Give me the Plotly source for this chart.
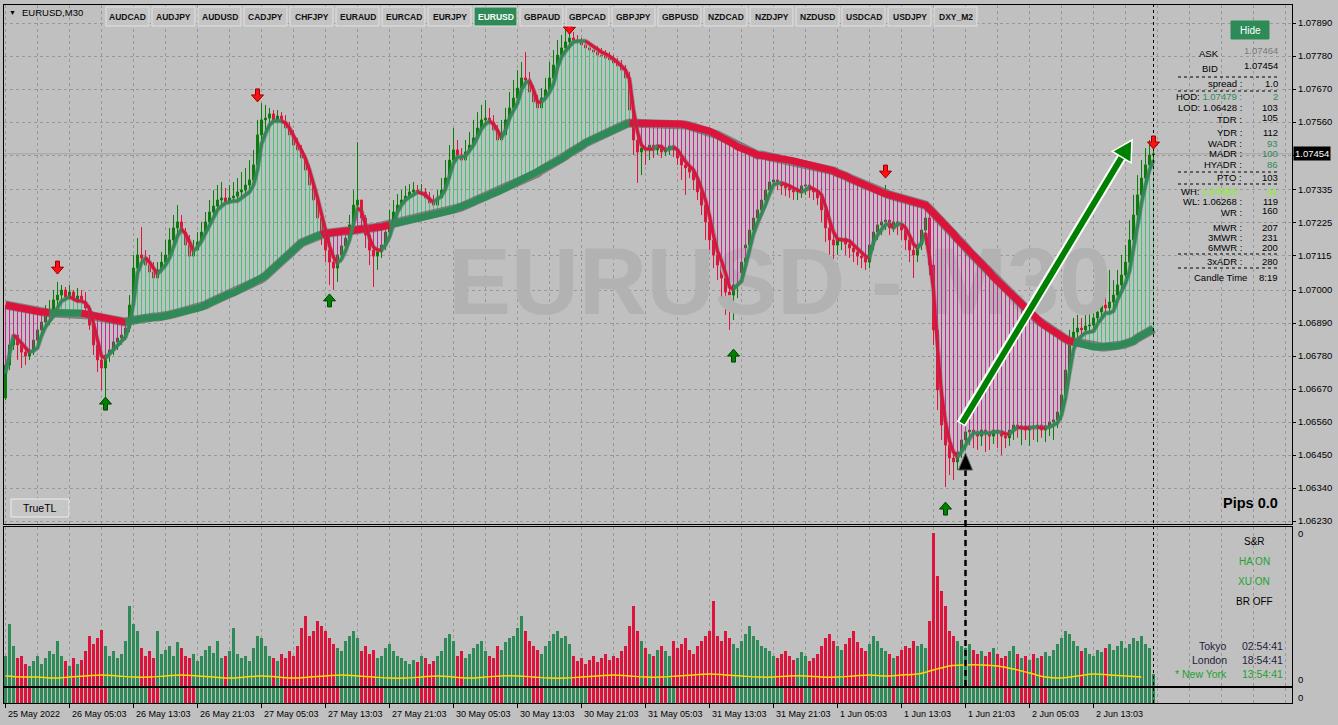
import plotly.graph_objects as go

# ---------------- DATA ----------------
symbol_title = "EURUSD,M30"
watermark_text = "EURUSD - M30"

x_tick_labels = ["25 May 2022", "26 May 05:03", "26 May 13:03", "26 May 21:03", "27 May 05:03",
                 "27 May 13:03", "27 May 21:03", "30 May 05:03", "30 May 13:03", "30 May 21:03",
                 "31 May 05:03", "31 May 13:03", "31 May 21:03", "1 Jun 05:03", "1 Jun 13:03",
                 "1 Jun 21:03", "2 Jun 05:03", "2 Jun 13:03"]
price_ticks = [1.07890, 1.07780, 1.07670, 1.07560, 1.07450, 1.07335, 1.07225, 1.07115, 1.07000,
               1.06890, 1.06780, 1.06670, 1.06560, 1.06450, 1.06340, 1.06230]
price_tick_text = ["1.07890", "1.07780", "1.07670", "1.07560", "", "1.07335", "1.07225", "1.07115",
                   "1.07000", "1.06890", "1.06780", "1.06670", "1.06560", "1.06450", "1.06340", "1.06230"]
bid_price = 1.07454

first_open = 1.06640
close = [
 1.06750,1.06817,1.06850,1.06817,1.06793,1.06780,1.06800,1.06833,1.06867,1.06893,1.06917,1.06927,1.06967,1.06983,1.07000,1.06977,
 1.06993,1.06967,1.06980,1.06960,1.06940,1.06883,1.06817,1.06767,1.06740,1.06783,1.06800,1.06827,1.06840,1.06850,1.06873,1.06950,
 1.07073,1.07117,1.07107,1.07083,1.07060,1.07040,1.07067,1.07093,1.07117,1.07167,1.07207,1.07227,1.07193,1.07150,1.07113,1.07133,
 1.07160,1.07193,1.07227,1.07260,1.07280,1.07300,1.07307,1.07293,1.07307,1.07313,1.07327,1.07333,1.07350,1.07367,1.07417,1.07517,
 1.07567,1.07573,1.07587,1.07567,1.07580,1.07560,1.07540,1.07517,1.07483,1.07467,1.07440,1.07400,1.07350,1.07300,1.07240,1.07183,
 1.07133,1.07093,1.07073,1.07117,1.07147,1.07173,1.07217,1.07283,1.07300,1.07240,1.07183,1.07133,1.07113,1.07127,1.07150,1.07193,
 1.07227,1.07260,1.07283,1.07300,1.07313,1.07327,1.07333,1.07320,1.07327,1.07307,1.07290,1.07283,1.07307,1.07333,1.07373,1.07433,
 1.07467,1.07450,1.07433,1.07460,1.07483,1.07507,1.07540,1.07567,1.07573,1.07560,1.07533,1.07500,1.07517,1.07567,1.07607,1.07640,
 1.07673,1.07707,1.07700,1.07660,1.07627,1.07607,1.07640,1.07667,1.07707,1.07750,1.07783,1.07807,1.07827,1.07840,1.07833,1.07827,
 1.07817,1.07807,1.07800,1.07793,1.07783,1.07780,1.07773,1.07767,1.07757,1.07747,1.07733,1.07707,1.07600,1.07500,1.07460,1.07473,
 1.07467,1.07483,1.07467,1.07483,1.07460,1.07473,1.07480,1.07467,1.07440,1.07417,1.07407,1.07393,1.07367,1.07327,1.07283,1.07227,
 1.07167,1.07117,1.07083,1.07040,1.06993,1.06983,1.07017,1.07040,1.07093,1.07150,1.07200,1.07240,1.07267,1.07300,1.07333,1.07360,
 1.07367,1.07357,1.07347,1.07340,1.07333,1.07327,1.07333,1.07347,1.07350,1.07333,1.07327,1.07307,1.07267,1.07207,1.07167,1.07150,
 1.07167,1.07173,1.07153,1.07140,1.07127,1.07113,1.07107,1.07093,1.07150,1.07193,1.07217,1.07227,1.07233,1.07207,1.07227,1.07213,
 1.07200,1.07167,1.07133,1.07117,1.07150,1.07200,1.07240,1.07083,1.06867,1.06667,1.06550,1.06483,1.06440,1.06427,1.06460,1.06500,
 1.06527,1.06533,1.06527,1.06513,1.06533,1.06523,1.06513,1.06533,1.06527,1.06513,1.06507,1.06533,1.06550,1.06540,1.06547,1.06533,
 1.06547,1.06540,1.06550,1.06533,1.06547,1.06560,1.06567,1.06593,1.06650,1.06733,1.06817,1.06860,1.06873,1.06867,1.06880,1.06883,
 1.06907,1.06927,1.06950,1.06940,1.06960,1.06983,1.07017,1.07050,1.07093,1.07167,1.07250,1.07317,1.07373,1.07417,1.07450,1.07454]
high = [
 1.06783,1.06840,1.06883,1.06867,1.06833,1.06817,1.06827,1.06850,1.06900,1.06933,1.06950,1.06967,1.07000,1.07027,1.07017,1.07010,
 1.07017,1.07000,1.07007,1.07000,1.06993,1.06950,1.06900,1.06833,1.06800,1.06817,1.06833,1.06850,1.06867,1.06883,1.06900,1.06983,
 1.07117,1.07173,1.07210,1.07133,1.07117,1.07093,1.07093,1.07127,1.07167,1.07207,1.07250,1.07283,1.07250,1.07207,1.07183,1.07167,
 1.07193,1.07227,1.07260,1.07300,1.07333,1.07350,1.07360,1.07340,1.07350,1.07360,1.07373,1.07393,1.07407,1.07433,1.07467,1.07567,
 1.07623,1.07617,1.07607,1.07600,1.07600,1.07593,1.07583,1.07560,1.07533,1.07507,1.07483,1.07450,1.07417,1.07367,1.07317,1.07267,
 1.07207,1.07150,1.07133,1.07140,1.07173,1.07207,1.07250,1.07333,1.07493,1.07300,1.07250,1.07207,1.07167,1.07167,1.07180,1.07227,
 1.07267,1.07300,1.07320,1.07333,1.07347,1.07353,1.07360,1.07350,1.07353,1.07340,1.07327,1.07317,1.07333,1.07373,1.07433,1.07483,
 1.07540,1.07500,1.07473,1.07500,1.07527,1.07567,1.07593,1.07617,1.07633,1.07607,1.07583,1.07550,1.07567,1.07607,1.07660,1.07700,
 1.07733,1.07760,1.07793,1.07727,1.07683,1.07650,1.07673,1.07707,1.07760,1.07800,1.07833,1.07850,1.07867,1.07873,1.07860,1.07850,
 1.07840,1.07833,1.07827,1.07817,1.07813,1.07807,1.07800,1.07793,1.07783,1.07773,1.07767,1.07750,1.07727,1.07633,1.07533,1.07517,
 1.07507,1.07517,1.07500,1.07517,1.07500,1.07507,1.07513,1.07500,1.07493,1.07467,1.07450,1.07433,1.07417,1.07383,1.07340,1.07300,
 1.07250,1.07183,1.07133,1.07100,1.07067,1.07033,1.07040,1.07067,1.07133,1.07193,1.07240,1.07283,1.07317,1.07340,1.07373,1.07393,
 1.07400,1.07393,1.07380,1.07373,1.07367,1.07360,1.07367,1.07373,1.07380,1.07373,1.07360,1.07347,1.07327,1.07283,1.07233,1.07193,
 1.07193,1.07200,1.07193,1.07180,1.07167,1.07153,1.07147,1.07140,1.07173,1.07233,1.07250,1.07267,1.07350,1.07250,1.07260,1.07250,
 1.07240,1.07217,1.07193,1.07167,1.07183,1.07240,1.07283,1.07250,1.07100,1.06900,1.06717,1.06600,1.06533,1.06500,1.06500,1.06533,
 1.06550,1.06567,1.06567,1.06550,1.06567,1.06560,1.06550,1.06573,1.06560,1.06547,1.06540,1.06567,1.06583,1.06573,1.06580,1.06567,
 1.06580,1.06573,1.06580,1.06567,1.06580,1.06587,1.06593,1.06633,1.06700,1.06800,1.06867,1.06907,1.06917,1.06907,1.06927,1.06940,
 1.06967,1.06980,1.07007,1.07017,1.07067,1.07033,1.07067,1.07117,1.07150,1.07233,1.07317,1.07383,1.07433,1.07473,1.07500,1.07479]
low = [
 1.06633,1.06733,1.06800,1.06767,1.06740,1.06750,1.06767,1.06783,1.06817,1.06850,1.06873,1.06883,1.06907,1.06933,1.06950,1.06950,
 1.06960,1.06933,1.06940,1.06927,1.06917,1.06867,1.06783,1.06727,1.06667,1.06640,1.06760,1.06783,1.06800,1.06817,1.06833,1.06860,
 1.06933,1.07050,1.07093,1.07050,1.07027,1.07013,1.07017,1.07047,1.07083,1.07107,1.07140,1.07173,1.07167,1.07127,1.07083,1.07093,
 1.07113,1.07140,1.07173,1.07207,1.07233,1.07260,1.07273,1.07267,1.07273,1.07280,1.07290,1.07300,1.07313,1.07327,1.07350,1.07400,
 1.07500,1.07533,1.07540,1.07540,1.07547,1.07533,1.07517,1.07493,1.07467,1.07440,1.07417,1.07373,1.07317,1.07267,1.07207,1.07150,
 1.07093,1.07017,1.07000,1.07027,1.07093,1.07133,1.07160,1.07200,1.07260,1.07207,1.07140,1.07083,1.07010,1.07067,1.07107,1.07133,
 1.07173,1.07213,1.07240,1.07267,1.07280,1.07293,1.07300,1.07300,1.07290,1.07283,1.07273,1.07267,1.07273,1.07300,1.07317,1.07367,
 1.07417,1.07427,1.07417,1.07427,1.07447,1.07467,1.07493,1.07517,1.07540,1.07540,1.07513,1.07480,1.07473,1.07500,1.07553,1.07583,
 1.07617,1.07650,1.07673,1.07640,1.07600,1.07573,1.07593,1.07627,1.07650,1.07683,1.07733,1.07767,1.07783,1.07807,1.07810,1.07807,
 1.07800,1.07783,1.07780,1.07773,1.07767,1.07760,1.07753,1.07747,1.07740,1.07727,1.07707,1.07673,1.07567,1.07450,1.07357,1.07383,
 1.07417,1.07433,1.07440,1.07450,1.07440,1.07447,1.07450,1.07443,1.07417,1.07367,1.07317,1.07373,1.07333,1.07300,1.07250,1.07167,
 1.07133,1.07073,1.07033,1.06967,1.06917,1.06867,1.06900,1.06973,1.07017,1.07067,1.07133,1.07183,1.07217,1.07250,1.07283,1.07317,
 1.07340,1.07333,1.07317,1.07313,1.07307,1.07300,1.07300,1.07307,1.07317,1.07307,1.07300,1.07283,1.07227,1.07160,1.07117,1.07083,
 1.07117,1.07133,1.07117,1.07107,1.07093,1.07083,1.07073,1.07067,1.07073,1.07133,1.07167,1.07183,1.07200,1.07183,1.07193,1.07183,
 1.07167,1.07133,1.07093,1.07040,1.07093,1.07133,1.07150,1.07050,1.06817,1.06600,1.06500,1.06343,1.06383,1.06367,1.06400,1.06440,
 1.06467,1.06483,1.06473,1.06467,1.06480,1.06460,1.06467,1.06487,1.06473,1.06450,1.06473,1.06480,1.06500,1.06507,1.06483,1.06500,
 1.06480,1.06500,1.06493,1.06507,1.06493,1.06513,1.06500,1.06540,1.06567,1.06633,1.06717,1.06800,1.06833,1.06840,1.06847,1.06850,
 1.06867,1.06883,1.06907,1.06917,1.06927,1.06940,1.06967,1.07000,1.07040,1.07083,1.07150,1.07227,1.07300,1.07350,1.07400,1.07433]

# smoothed (heiken-ashi style) fast line
fast_line = [
 1.06723,1.06793,1.06850,1.06837,1.06823,1.06807,1.06793,1.06797,1.06807,1.06847,1.06877,1.06897,1.06913,1.06940,1.06963,1.06970,
 1.06977,1.06970,1.06963,1.06963,1.06957,1.06937,1.06890,1.06833,1.06780,1.06773,1.06787,1.06803,1.06817,1.06830,1.06843,1.06883,
 1.06957,1.07057,1.07090,1.07107,1.07093,1.07073,1.07053,1.07067,1.07083,1.07107,1.07143,1.07180,1.07203,1.07187,1.07160,1.07130,
 1.07143,1.07163,1.07190,1.07213,1.07240,1.07267,1.07280,1.07290,1.07293,1.07297,1.07297,1.07307,1.07317,1.07327,1.07350,1.07400,
 1.07487,1.07523,1.07550,1.07563,1.07563,1.07563,1.07557,1.07540,1.07513,1.07490,1.07467,1.07437,1.07400,1.07357,1.07307,1.07253,
 1.07197,1.07147,1.07110,1.07090,1.07103,1.07130,1.07167,1.07220,1.07273,1.07263,1.07217,1.07173,1.07143,1.07133,1.07133,1.07150,
 1.07177,1.07220,1.07260,1.07283,1.07300,1.07310,1.07317,1.07327,1.07323,1.07317,1.07303,1.07293,1.07303,1.07313,1.07337,1.07377,
 1.07423,1.07443,1.07443,1.07447,1.07467,1.07483,1.07510,1.07537,1.07553,1.07563,1.07553,1.07533,1.07507,1.07533,1.07573,1.07600,
 1.07623,1.07667,1.07690,1.07697,1.07667,1.07627,1.07627,1.07640,1.07660,1.07687,1.07743,1.07777,1.07797,1.07813,1.07827,1.07830,
 1.07830,1.07830,1.07820,1.07810,1.07803,1.07793,1.07787,1.07780,1.07770,1.07760,1.07747,1.07733,1.07703,1.07600,1.07527,1.07483,
 1.07470,1.07470,1.07470,1.07480,1.07477,1.07467,1.07470,1.07477,1.07467,1.07447,1.07427,1.07413,1.07400,1.07373,1.07337,1.07300,
 1.07247,1.07180,1.07130,1.07097,1.07057,1.07010,1.07003,1.07017,1.07030,1.07080,1.07133,1.07187,1.07223,1.07253,1.07283,1.07320,
 1.07350,1.07357,1.07357,1.07353,1.07347,1.07340,1.07333,1.07327,1.07333,1.07343,1.07337,1.07330,1.07317,1.07280,1.07233,1.07193,
 1.07170,1.07167,1.07167,1.07163,1.07150,1.07137,1.07127,1.07113,1.07107,1.07160,1.07183,1.07203,1.07217,1.07220,1.07207,1.07220,
 1.07220,1.07207,1.07183,1.07153,1.07140,1.07157,1.07190,1.07107,1.07000,1.06807,1.06657,1.06560,1.06497,1.06460,1.06443,1.06460,
 1.06483,1.06507,1.06523,1.06523,1.06523,1.06523,1.06523,1.06527,1.06527,1.06527,1.06520,1.06520,1.06533,1.06543,1.06540,1.06540,
 1.06540,1.06543,1.06543,1.06540,1.06540,1.06543,1.06550,1.06557,1.06583,1.06640,1.06723,1.06800,1.06833,1.06847,1.06857,1.06860,
 1.06863,1.06887,1.06907,1.06923,1.06923,1.06930,1.06967,1.06997,1.07023,1.07063,1.07143,1.07223,1.07290,1.07350,1.07400,1.07433]

# slow moving average
slow_ma = [
 1.06950,1.06947,1.06947,1.06943,1.06940,1.06937,1.06937,1.06933,1.06930,1.06927,1.06927,1.06923,1.06923,1.06923,1.06923,1.06923,
 1.06923,1.06923,1.06923,1.06923,1.06920,1.06917,1.06913,1.06910,1.06907,1.06903,1.06900,1.06897,1.06897,1.06893,1.06893,1.06897,
 1.06900,1.06900,1.06903,1.06907,1.06907,1.06910,1.06910,1.06910,1.06913,1.06917,1.06920,1.06923,1.06927,1.06930,1.06933,1.06937,
 1.06940,1.06943,1.06950,1.06957,1.06963,1.06970,1.06977,1.06980,1.06987,1.06990,1.06997,1.07003,1.07010,1.07017,1.07023,1.07030,
 1.07037,1.07047,1.07060,1.07073,1.07087,1.07097,1.07107,1.07120,1.07133,1.07147,1.07157,1.07163,1.07170,1.07177,1.07180,1.07183,
 1.07190,1.07190,1.07193,1.07193,1.07197,1.07197,1.07197,1.07200,1.07200,1.07203,1.07203,1.07207,1.07207,1.07210,1.07210,1.07213,
 1.07217,1.07220,1.07223,1.07227,1.07230,1.07233,1.07237,1.07240,1.07243,1.07247,1.07250,1.07250,1.07253,1.07257,1.07257,1.07263,
 1.07267,1.07273,1.07277,1.07283,1.07290,1.07293,1.07300,1.07303,1.07310,1.07317,1.07320,1.07327,1.07333,1.07340,1.07343,1.07350,
 1.07357,1.07363,1.07370,1.07377,1.07383,1.07390,1.07400,1.07407,1.07413,1.07420,1.07427,1.07437,1.07447,1.07457,1.07463,1.07473,
 1.07480,1.07490,1.07497,1.07503,1.07510,1.07517,1.07523,1.07530,1.07537,1.07543,1.07550,1.07553,1.07557,1.07557,1.07557,1.07557,
 1.07557,1.07557,1.07557,1.07557,1.07557,1.07557,1.07557,1.07557,1.07557,1.07553,1.07550,1.07547,1.07543,1.07543,1.07540,1.07533,
 1.07530,1.07523,1.07517,1.07510,1.07503,1.07497,1.07487,1.07477,1.07473,1.07467,1.07460,1.07457,1.07450,1.07450,1.07447,1.07443,
 1.07443,1.07440,1.07437,1.07437,1.07433,1.07430,1.07427,1.07423,1.07423,1.07420,1.07417,1.07413,1.07410,1.07407,1.07403,1.07397,
 1.07390,1.07387,1.07380,1.07373,1.07367,1.07360,1.07353,1.07347,1.07340,1.07333,1.07327,1.07323,1.07320,1.07317,1.07313,1.07310,
 1.07307,1.07303,1.07300,1.07297,1.07293,1.07287,1.07283,1.07270,1.07257,1.07243,1.07230,1.07213,1.07200,1.07187,1.07170,1.07157,
 1.07143,1.07127,1.07113,1.07100,1.07087,1.07073,1.07060,1.07043,1.07030,1.07017,1.07003,1.06990,1.06977,1.06963,1.06950,1.06937,
 1.06923,1.06913,1.06900,1.06890,1.06880,1.06870,1.06860,1.06850,1.06843,1.06837,1.06830,1.06827,1.06823,1.06820,1.06817,1.06813,
 1.06810,1.06810,1.06810,1.06810,1.06810,1.06813,1.06813,1.06817,1.06820,1.06823,1.06830,1.06840,1.06847,1.06857,1.06863,1.06870]

# trend state of the slow MA: (first bar index, state)
ma_trend_switch = [(0, "dn"), (12, "up"), (20, "dn"), (31, "up"), (80, "dn"), (97, "up"), (157, "dn"), (268, "up")]

# signal arrows
sell_idx = [13, 63, 141, 220, 287]
sell_price = [1.07073, 1.07647, 1.07873, 1.07393, 1.07490]
buy_idx = [25, 81, 182, 235]
buy_price = [1.06623, 1.06967, 1.06783, 1.06273]

# lower window histogram (volume-like) and its yellow signal line
volume = [
 30,62,40,28,30,22,20,25,30,22,28,35,32,45,30,25,
 20,28,22,26,35,50,42,48,56,40,30,35,28,32,45,80,
 62,55,38,30,35,28,55,32,36,40,30,44,38,30,28,32,
 25,30,36,40,33,45,28,30,35,58,32,28,30,25,38,50,
 48,40,30,28,25,32,28,35,30,40,58,70,50,55,65,60,
 55,48,42,38,35,45,50,55,48,35,40,32,36,28,30,38,
 42,35,30,28,25,22,26,24,30,28,22,25,30,35,48,52,
 45,30,35,28,32,38,42,45,35,30,28,40,36,44,48,50,
 58,70,55,45,40,36,32,40,45,52,55,48,50,42,30,25,
 28,22,26,30,24,28,32,26,30,28,35,40,60,80,55,45,
 38,32,30,36,40,35,30,45,38,42,48,36,32,40,45,50,
 55,85,50,45,55,48,42,38,45,52,60,50,46,40,38,35,
 30,28,32,35,30,26,28,34,30,25,28,32,40,48,52,45,
 40,36,42,48,55,44,38,35,42,50,45,38,35,32,28,30,
 36,40,38,45,40,42,38,65,153,110,95,80,55,50,45,40,
 38,42,36,32,35,30,34,38,32,28,30,35,40,32,28,30,
 26,32,28,30,34,30,36,42,48,55,52,45,40,35,38,32,
 30,36,34,38,42,36,40,45,38,42,48,45,50,42,38,12]
signal_step = 4
signal_line = [
 10, 9, 9, 8, 9, 10, 11, 10,
 9, 9, 10, 11, 10, 9, 8, 9,
 10, 9, 8, 9, 10, 11, 10, 9,
 8, 8, 9, 10, 9, 8, 9, 10,
 10, 9, 8, 8, 9, 10, 11, 10,
 9, 9, 10, 11, 12, 11, 10, 9,
 9, 10, 10, 9, 9, 10, 11, 10,
 11, 12, 16, 20, 21, 21, 20, 17,
 13, 9, 8, 10, 12, 11, 10, 9]

toolbar_symbols = ["AUDCAD", "AUDJPY", "AUDUSD", "CADJPY", "CHFJPY", "EURAUD", "EURCAD", "EURJPY",
                   "EURUSD", "GBPAUD", "GBPCAD", "GBPJPY", "GBPUSD", "NZDCAD", "NZDJPY", "NZDUSD",
                   "USDCAD", "USDJPY", "DXY_M2"]
active_symbol = "EURUSD"

ask_text, bid_text = "1.07464", "1.07454"
panel_rows = [  # label, label y, value, value y, value colour key
    ("spread :", 83, "1.0", 83, "k"),
    ("HOD: <span style='color:#2e8b57'>1.07479 :</span>", 97, "2", 97, "g"),
    ("LOD: 1.06428 :", 107, "103", 107, "k"),
    ("TDR :", 119, "105", 117, "k"),
    ("YDR :", 133, "112", 133, "k"),
    ("WADR :", 143, "93", 143, "g"),
    ("MADR :", 153, "100", 153, "g"),
    ("HYADR :", 164, "86", 164, "g"),
    ("PTO :", 178, "103", 178, "k"),
    ("WH: <span style='color:#7cfc00'>1.07883 :</span>", 191, "41", 191, "l"),
    ("WL: 1.06268 :", 201, "119", 201, "k"),
    ("WR :", 213, "160", 211, "k"),
    ("MWR :", 227, "207", 227, "k"),
    ("3MWR :", 237, "231", 237, "k"),
    ("6MWR :", 248, "200", 248, "k"),
    ("3xADR :", 261, "280", 261, "k"),
]
candle_time = "8:19"
pips_text = "Pips 0.0"
status_rows = [("S&R", "k"), ("HA ON", "g"), ("XU ON", "g"), ("BR OFF", "k")]
sessions = [("Tokyo", "02:54:41", "d"), ("London", "18:54:41", "d"), ("* New York", "13:54:41", "g")]

# ---------------- GEOMETRY / STYLE ----------------
W, H = 1338, 725
PL, PR, PT, PB = 4, 1292, 5, 703
MAIN_BOT, LOW_TOP, LOW_BOT, STRIP_TOP = 524, 527, 686, 688
X_RANGE = [-0.375, 321.625]
Y_RANGE = [1.06220, 1.07950]
LOW_RANGE = [0, 159]
FONT = "Liberation Sans, Arial, sans-serif"
BG = "#c0c0c0"
GRID = "#999999"
G_LINE, R_LINE = "#2e8b57", "#dc143c"
G_CANDLE, R_CANDLE = "#0a7d0a", "#e0143c"
G_FILL, M_FILL = "#3cc878", "#d0209a"

def fx(p):
    return (p - PL) / (PR - PL)

def fy(p):
    return (PB - p) / (PB - PT)

def dxu(pix):
    return pix * (X_RANGE[1] - X_RANGE[0]) / (PR - PL)

def dyu(pix):
    return pix * (Y_RANGE[1] - Y_RANGE[0]) / (MAIN_BOT - PT)

n = len(close)
assert len(high) == n and len(low) == n and len(fast_line) == n and len(slow_ma) == n and len(volume) == n
idx = list(range(n))
opens = [first_open] + close[:-1]

# states
ma_up = []
for i in range(n):
    st = None
    for s, v in ma_trend_switch:
        if s <= i:
            st = v
    ma_up.append(st == "up")

fast_up = []
for i in range(n):
    if i == 0:
        fast_up.append(True)
    elif fast_line[i] > fast_line[i - 1]:
        fast_up.append(True)
    elif fast_line[i] < fast_line[i - 1]:
        fast_up.append(False)
    else:
        fast_up.append(fast_up[-1])

def runs(states):
    out, s = [], 0
    for k in range(1, len(states) + 1):
        if k == len(states) or states[k] != states[s]:
            out.append((s, k - 1, states[s]))
            s = k
    return out

fig = go.Figure()

# watermark (behind everything)
fig.add_trace(go.Scatter(x=[(780 - 5.5) / 4], y=[Y_RANGE[1] - dyu(290 - PT)], mode="text",
                         text=["<b>" + watermark_text + "</b>"],
                         textfont=dict(family=FONT, size=94, color="#b2b2b2"),
                         hoverinfo="skip", showlegend=False, xaxis="x", yaxis="y"))

# connector lines between fast line and slow MA
gx, gy, mx, my = [], [], [], []
for i in range(n):
    if ma_up[i]:
        gx += [i, i, None]; gy += [fast_line[i], slow_ma[i], None]
    else:
        mx += [i, i, None]; my += [fast_line[i], slow_ma[i], None]
fig.add_trace(go.Scatter(x=gx, y=gy, mode="lines", line=dict(color=G_FILL, width=1),
                         hoverinfo="skip", showlegend=False))
fig.add_trace(go.Scatter(x=mx, y=my, mode="lines", line=dict(color=M_FILL, width=1),
                         hoverinfo="skip", showlegend=False))

# candles
fig.add_trace(go.Candlestick(x=idx, open=opens, high=high, low=low, close=close,
                             increasing=dict(line=dict(color=G_CANDLE, width=1), fillcolor=G_CANDLE),
                             decreasing=dict(line=dict(color=R_CANDLE, width=1), fillcolor=R_CANDLE),
                             whiskerwidth=0, hoverinfo="skip", showlegend=False))

# slow MA
fig.add_trace(go.Scatter(x=idx, y=slow_ma, mode="lines", line=dict(color="rgba(100,100,100,0.7)", width=9),
                         hoverinfo="skip", showlegend=False))
for s, e, up in runs(ma_up):
    xs = list(range(max(s - 1, 0), e + 1))
    fig.add_trace(go.Scatter(x=xs, y=[slow_ma[k] for k in xs], mode="lines",
                             line=dict(color=G_LINE if up else R_LINE, width=7),
                             hoverinfo="skip", showlegend=False))

# fast line
fig.add_trace(go.Scatter(x=idx, y=fast_line, mode="lines", line=dict(color="rgba(105,105,105,0.55)", width=4.5),
                         hoverinfo="skip", showlegend=False))
for s, e, up in runs(fast_up):
    xs = list(range(max(s - 1, 0), e + 1))
    fig.add_trace(go.Scatter(x=xs, y=[fast_line[k] for k in xs], mode="lines",
                             line=dict(color=G_LINE if up else R_LINE, width=3),
                             hoverinfo="skip", showlegend=False))

# lower window
vol_colors = [G_LINE if close[i] >= opens[i] else R_LINE for i in range(n)]
fig.add_trace(go.Bar(x=idx, y=volume, width=0.75, marker=dict(color=vol_colors, line=dict(width=0)),
                     xaxis="x2", yaxis="y2", hoverinfo="skip", showlegend=False))
sig_x = list(range(0, n, signal_step))
assert len(sig_x) == len(signal_line)
fig.add_trace(go.Scatter(x=sig_x, y=signal_line, mode="lines", line=dict(color="#ffd700", width=1.5, shape="spline"),
                         xaxis="x2", yaxis="y2", hoverinfo="skip", showlegend=False))

# bottom strip
fig.add_trace(go.Bar(x=idx, y=[1] * n, width=0.75,
                     marker=dict(color=[G_LINE if u else R_LINE for u in fast_up], line=dict(width=0)),
                     xaxis="x3", yaxis="y3", hoverinfo="skip", showlegend=False))

# ---------------- SHAPES / ANNOTATIONS ----------------
shapes, ann = [], []

def text(x, y, s, anchor="right", color="#000000", size=9.5, xref="paper"):
    ann.append(dict(x=fx(x) if xref == "paper" else x, y=fy(y), xref=xref, yref="paper", text=s,
                    showarrow=False, xanchor=anchor, yanchor="middle",
                    font=dict(family=FONT, size=size, color=color)))

def rect(x0, y0, x1, y1, fill, line="#e4e4e4", lw=1):
    shapes.append(dict(type="rect", xref="paper", yref="paper", x0=fx(x0), x1=fx(x1), y0=fy(y1), y1=fy(y0),
                       fillcolor=fill, line=dict(color=line, width=lw), layer="above"))

def hline_px(x0, x1, y, color="#000000", dash="dot", w=1):
    shapes.append(dict(type="line", xref="paper", yref="paper", x0=fx(x0), x1=fx(x1), y0=fy(y), y1=fy(y),
                       line=dict(color=color, width=w, dash=dash), layer="above"))

def poly_px(pts, fill, line, lw=1):
    p = " ".join(("M" if k == 0 else "L") + f"{fx(a):.5f},{fy(b):.5f}" for k, (a, b) in enumerate(pts)) + " Z"
    shapes.append(dict(type="path", xref="paper", yref="paper", path=p, fillcolor=fill,
                       line=dict(color=line, width=lw), layer="above"))

# bid line and current-bar line
shapes.append(dict(type="line", xref="x domain", yref="y", x0=0, x1=1, y0=bid_price, y1=bid_price,
                   line=dict(color="#a3a3a3", width=1), layer="below"))
shapes.append(dict(type="line", xref="x", yref="paper", x0=n - 1, x1=n - 1, y0=0, y1=1,
                   line=dict(color="#000000", width=1, dash="dot"), layer="above"))

# signal arrows
def sig_arrow(i, p, down, fill, edge):
    pts = [(-2, -7), (2, -7), (2, -1), (6, -1), (0, 6), (-6, -1), (-2, -1)]
    path = ""
    for k, (ox, oy) in enumerate(pts):
        if not down:
            oy = -oy
        X = i + dxu(ox)
        Y = p - dyu(oy)
        path += ("M" if k == 0 else "L") + f"{X:.4f},{Y:.6f} "
    shapes.append(dict(type="path", xref="x", yref="y", path=path + "Z", fillcolor=fill,
                       line=dict(color=edge, width=1), layer="above"))

for i, p in zip(sell_idx, sell_price):
    sig_arrow(i, p, True, "#ff1010", "#9a0000")
for i, p in zip(buy_idx, buy_price):
    sig_arrow(i, p, False, "#008000", "#004400")

# big green arrow (annotation drawing)
shapes.append(dict(type="line", xref="paper", yref="paper", x0=fx(961), y0=fy(424), x1=fx(1121.7), y1=fy(157.1),
                   line=dict(color="#ffffff", width=10), layer="above"))
shapes.append(dict(type="line", xref="paper", yref="paper", x0=fx(962), y0=fy(423), x1=fx(1121.7), y1=fy(157.1),
                   line=dict(color="#008000", width=6), layer="above"))
poly_px([(1132, 140), (1131.1, 162.8), (1112.3, 151.4)], "#008000", "#ffffff", 1.5)
# black dashed arrow
shapes.append(dict(type="line", xref="paper", yref="paper", x0=fx(965.5), x1=fx(965.5), y0=fy(686), y1=fy(469),
                   line=dict(color="#000000", width=2.5, dash="6px,4px"), layer="above"))
poly_px([(965.5, 453), (972.5, 470), (958.5, 470)], "#000000", "#606060", 1)

# toolbar
for k, sym in enumerate(toolbar_symbols):
    x0 = 106 + 46 * k
    act = sym == active_symbol
    rect(x0, 7, x0 + 43, 26, "#2e8b57" if act else "#c4c4c4", "#e2e2e2")
    text(x0 + 21.5, 16.5, "<b>" + sym + "</b>", anchor="center", color="#ffffff" if act else "#111111", size=8.5)

# title
text(12, 13, "▼", anchor="center", size=7)
text(20, 13, symbol_title, anchor="left", size=9.5)

# info panel
rect(1231, 21, 1269, 39, "#2e8b57", "#2e8b57")
text(1250, 30, "Hide", anchor="center", color="#ffffff", size=10)
text(1209, 54, "ASK", anchor="center")
text(1280, 51, ask_text, color="#7a7a7a")
text(1210, 68, "BID", anchor="center")
text(1280, 65, bid_text)
for yy in (77, 91, 172, 184, 254, 268):
    hline_px(1178, 1280, yy)
col = {"k": "#000000", "g": "#2e8b57", "l": "#7cfc00", "d": "#1e1e3c"}
for lab, ly, val, vy, c in panel_rows:
    text(1244, ly, lab)
    text(1280, vy, val, color=col[c])
text(1192, 277, "Candle Time", anchor="left")
text(1280, 277, candle_time)
text(1280, 503, "<b>" + pips_text + "</b>", size=14.5)

# TrueTL button
rect(11, 499, 69, 517, "#c6c6c6", "#ececec")
text(40, 508, "TrueTL", anchor="center", size=10.5)

# lower window texts
stat_col = {"k": "#000000", "g": "#22a22e"}
for k, (s, c) in enumerate(status_rows):
    text(1254, 541 + 20 * k, s, anchor="center", color=stat_col[c], size=10)
for k, (city, tm, c) in enumerate(sessions):
    cc = "#1e1e3c" if c == "d" else "#22a22e"
    text(1229, 646 + 14 * k, city, color=cc, size=10.5)
    text(1285, 646 + 14 * k, tm, color=cc, size=10.5)

# scale labels for sub windows and price box
text(1296, 533, "0", anchor="left", size=9.5)
text(1296, 679, "0", anchor="left", size=9.5)
text(1296, 697, "0", anchor="left", size=9.5)
ann.append(dict(x=fx(1293), y=bid_price, xref="paper", yref="y", text=bid_text, showarrow=False,
                xanchor="left", yanchor="middle", bgcolor="#000000", borderpad=1,
                font=dict(family=FONT, size=9.5, color="#ffffff")))

# time labels
for k, lab in enumerate(x_tick_labels):
    ann.append(dict(x=16 * k, y=fy(714), xref="x", yref="paper", text=lab, showarrow=False,
                    xanchor="left", yanchor="middle", xshift=0,
                    font=dict(family=FONT, size=9, color="#000000")))

grid_vals = list(range(0, 322, 8))
label_vals = [16 * k for k in range(len(x_tick_labels))]
common_x = dict(range=X_RANGE, showline=True, mirror=True, linecolor="#000000", linewidth=1,
                zeroline=False, showgrid=True, gridcolor=GRID, griddash="3px,3px", gridwidth=1,
                fixedrange=True)

fig.update_layout(
    width=W, height=H, margin=dict(l=PL, r=W - PR, t=PT, b=H - PB),
    paper_bgcolor=BG, plot_bgcolor=BG, showlegend=False, bargap=0,
    font=dict(family=FONT, size=9.5, color="#000000"),
    xaxis=dict(common_x, anchor="y", tickvals=grid_vals, showticklabels=False, ticks="",
               rangeslider=dict(visible=False)),
    xaxis2=dict(common_x, anchor="y2", tickvals=grid_vals, showticklabels=False, ticks=""),
    xaxis3=dict(common_x, anchor="y3", tickvals=label_vals, showticklabels=False, ticks="outside",
                ticklen=4, tickcolor="#000000",
                minor=dict(tickvals=grid_vals, showgrid=True, gridcolor=GRID, griddash="3px,3px", ticks="")),
    yaxis=dict(domain=[fy(MAIN_BOT), 1], range=Y_RANGE, anchor="x", side="right",
               tickvals=price_ticks, ticktext=price_tick_text, ticks="outside", ticklen=3,
               tickcolor="#000000", tickfont=dict(family=FONT, size=9.5, color="#000000"),
               showgrid=True, gridcolor=GRID, griddash="3px,3px", showline=True, mirror=True,
               linecolor="#000000", zeroline=False, fixedrange=True),
    yaxis2=dict(domain=[fy(LOW_BOT), fy(LOW_TOP)], range=LOW_RANGE, anchor="x2", showgrid=False,
                showticklabels=False, showline=True, mirror=True, linecolor="#000000", zeroline=False,
                fixedrange=True),
    yaxis3=dict(domain=[0, fy(STRIP_TOP)], range=[0, 1], anchor="x3", showgrid=False,
                showticklabels=False, showline=True, mirror=True, linecolor="#000000", zeroline=False,
                fixedrange=True),
    shapes=shapes, annotations=ann,
)

fig.write_html("out.html", config={"displayModeBar": False},
               post_script="document.body.style.margin='0px';document.body.style.overflow='hidden';")
